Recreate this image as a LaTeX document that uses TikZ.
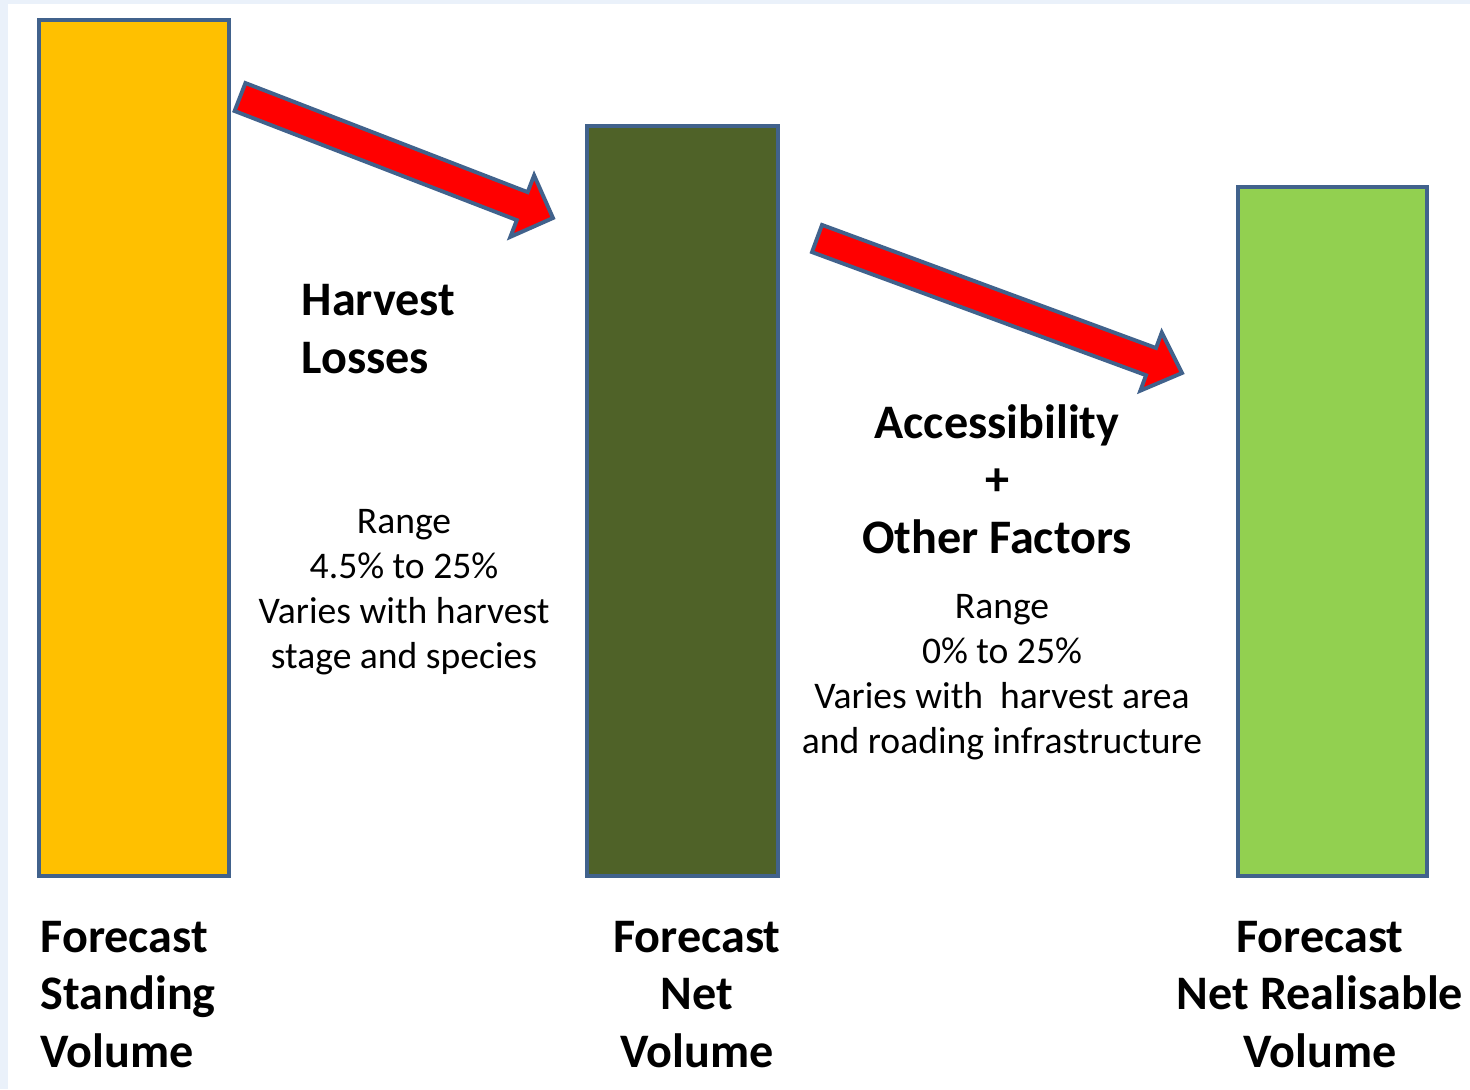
\documentclass[tikz,border=0pt]{standalone}
\usepackage{fontspec}
\setmainfont{Carlito}
\usetikzlibrary{calc,positioning}

\definecolor{pagebg}{HTML}{EAF1FA}
\definecolor{edgeblue}{HTML}{41628C}
\definecolor{standyellow}{HTML}{FFC000}
\definecolor{netolive}{HTML}{4F6228}
\definecolor{realgreen}{HTML}{92D050}

\tikzset{
  volbar/.style={draw=edgeblue, line width=1pt, inner sep=0pt, anchor=south west},
  biglabel/.style={font=\bfseries\fontsize{13.7}{16.3}\selectfont, inner sep=0pt},
  smalllabel/.style={font=\fontsize{10.7}{12.8}\selectfont, inner sep=0pt, align=center, anchor=base},
  redarrow/.style={draw=edgeblue, fill=red, line width=1.1pt, line join=miter},
}

% fat arrow from #1 to #2: half shaft, half head, head length
\newcommand\blockarrow[5]{%
  \coordinate (#1-b) at ($(#2)!#5!(#1)$);
  \draw[redarrow] ($(#1)!#3!90:(#2)$) -- ($(#1-b)!#3!-90:(#1)$)
    -- ($(#1-b)!#4!-90:(#1)$) -- (#2) -- ($(#1-b)!#4!90:(#1)$)
    -- ($(#1-b)!#3!90:(#1)$) -- ($(#1)!#3!-90:(#2)$) -- cycle;
}

\begin{document}
\begin{tikzpicture}[x=0.1mm, y=-0.1mm]
  \useasboundingbox (0,0) rectangle (1470,1089);
  \fill[pagebg] (0,0) rectangle (1470,1089);
  \fill[white] (8,4) rectangle (1470,1089);
  %
  \node[volbar, fill=standyellow, minimum width=19.0mm, minimum height=85.6mm] (standing) at (37,877.5) {};
  \node[volbar, fill=netolive, minimum width=19.1mm, minimum height=75.0mm] (net) at (585,877.5) {};
  \node[volbar, fill=realgreen, minimum width=18.9mm, minimum height=68.9mm] (realisable) at (1236,877.5) {};
  %
  \coordinate (h1) at (240,97);
  \coordinate (h2) at (553,218);
  \coordinate (a1) at (817,238.5);
  \coordinate (a2) at (1182,373);
  \blockarrow{h1}{h2}{1.5mm}{3.3mm}{3.3mm}
  \blockarrow{a1}{a2}{1.45mm}{3.1mm}{3.3mm}
  %
  \node[biglabel, align=left, anchor=base west] (losses) at (301,373) {Harvest\\Losses};
  \node[smalllabel] (lossrange) at (404,668) {Range\\4.5\% to 25\%\\Varies with harvest\\stage and species};
  \node[biglabel, align=center, anchor=base] (access) at (997,553) {Accessibility\\+\\Other Factors};
  \node[smalllabel] (accrange) at (1002,753) {Range\\0\% to 25\%\\Varies with~ harvest area\\and roading infrastructure};
  %
  \node[biglabel, align=left, anchor=base west] (standlabel) at (40,1067) {Forecast\\Standing\\Volume};
  \node[biglabel, align=center, anchor=base] (netlabel) at (697,1067) {Forecast\\Net\\Volume};
  \node[biglabel, align=center, anchor=base] (reallabel) at (1320,1067) {Forecast\\Net Realisable\\Volume};
\end{tikzpicture}
\end{document}
